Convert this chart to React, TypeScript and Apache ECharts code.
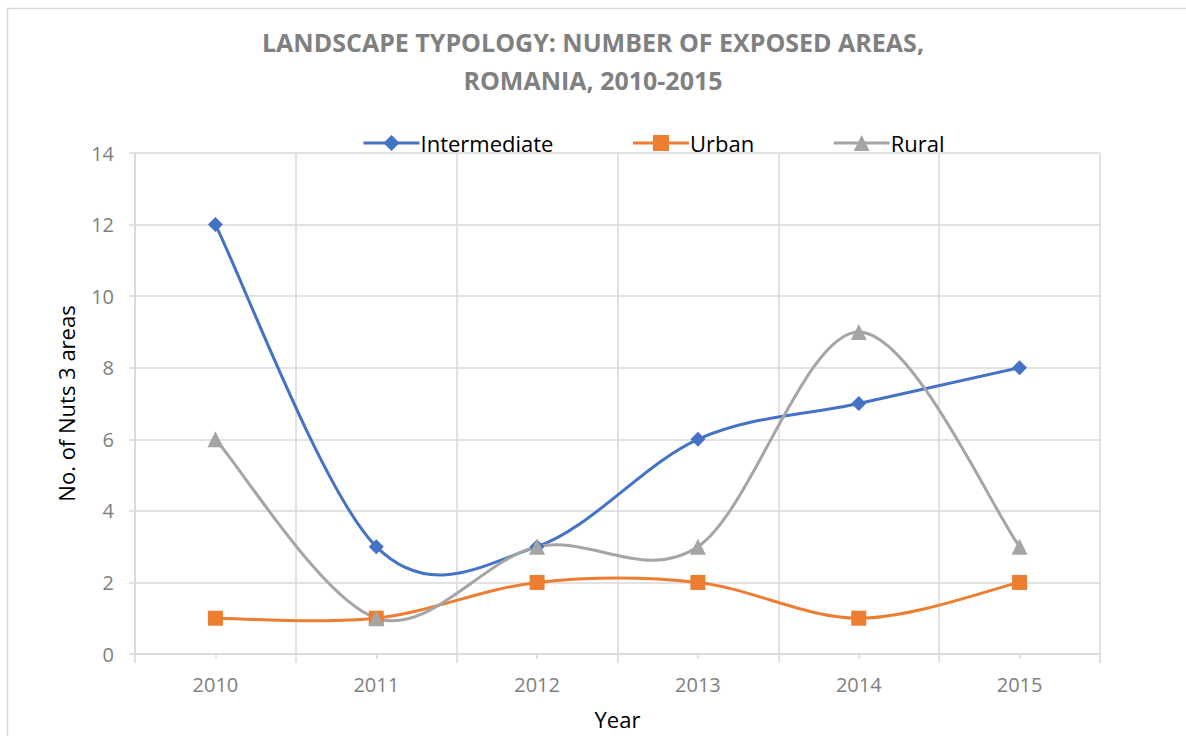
import React, { useEffect, useRef } from "react";
import * as echarts from "echarts";

const years = ["2010", "2011", "2012", "2013", "2014", "2015"];
const intermediate = [12, 3, 3, 6, 7, 8];
const urban = [1, 1, 2, 2, 1, 2];
const rural = [6, 1, 3, 3, 9, 3];
const titleText = "LANDSCAPE TYPOLOGY: NUMBER OF EXPOSED AREAS,\nROMANIA, 2010-2015";

const COLORS = { Intermediate: "#4472C4", Urban: "#ED7D31", Rural: "#A5A5A5" };

// segment list for Excel-like (Catmull-Rom) smoothed curves, built from the value arrays
function segments(arr: number[]) {
  const n = arr.length;
  return arr.slice(0, -1).map((v, i) => [i, arr[Math.max(i - 1, 0)], v, arr[i + 1], arr[Math.min(i + 2, n - 1)]]);
}

function curveSeries(name: string, arr: number[], color: string) {
  const n = arr.length;
  return {
    name: name + " curve",
    type: "custom",
    silent: true,
    z: 1,
    encode: { x: 0, y: 2 },
    data: segments(arr),
    renderItem: (params: any, api: any) => {
      const i = api.value(0);
      const p0 = api.coord([Math.max(i - 1, 0), api.value(1)]);
      const p1 = api.coord([i, api.value(2)]);
      const p2 = api.coord([i + 1, api.value(3)]);
      const p3 = api.coord([Math.min(i + 2, n - 1), api.value(4)]);
      const k = 1 / 6;
      return {
        type: "bezierCurve",
        shape: {
          x1: p1[0],
          y1: p1[1],
          x2: p2[0],
          y2: p2[1],
          cpx1: p1[0] + (p2[0] - p0[0]) * k,
          cpy1: p1[1] + (p2[1] - p0[1]) * k,
          cpx2: p2[0] - (p3[0] - p1[0]) * k,
          cpy2: p2[1] - (p3[1] - p1[1]) * k,
        },
        style: { stroke: color, lineWidth: 3, fill: "none" },
      };
    },
  };
}

function markerSeries(name: string, arr: number[], color: string, symbol: string, size: number) {
  return {
    name,
    type: "line",
    data: arr,
    z: 3,
    symbol,
    symbolSize: size,
    itemStyle: { color },
    lineStyle: { color, width: 3, opacity: 0 },
  };
}

export default function App() {
  const ref = useRef<HTMLDivElement>(null);
  useEffect(() => {
    document.body.style.margin = "0";
    const chart = echarts.init(ref.current!, null, { renderer: "svg" });
    const font = "'Open Sans', sans-serif";
    chart.setOption({
      animation: false,
      backgroundColor: "#ffffff",
      title: {
        text: titleText,
        left: "center",
        top: 18,
        textStyle: {
          fontFamily: font,
          fontWeight: "bold",
          fontSize: 25,
          color: "#808080",
          lineHeight: 38,
        },
      },
      graphic: [
        {
          type: "rect",
          shape: { x: 7.5, y: 8.5, width: 1300, height: 800 },
          style: { fill: "none", stroke: "#d9d9d9", lineWidth: 1.5 },
          silent: true,
        },
      ],
      legend: {
        top: 127,
        left: 357,
        itemWidth: 56,
        itemHeight: 20,
        itemGap: 78,
        textStyle: { fontFamily: font, fontSize: 22, color: "#000000", padding: [0, 0, 0, -4] },
        data: [
          { name: "Intermediate", lineStyle: { opacity: 1, color: COLORS.Intermediate, width: 3 } },
          { name: "Urban", lineStyle: { opacity: 1, color: COLORS.Urban, width: 3 } },
          { name: "Rural", lineStyle: { opacity: 1, color: COLORS.Rural, width: 3 } },
        ],
      },
      grid: { left: 135, right: 86, top: 153, bottom: 82 },
      xAxis: [
        {
          type: "category",
          data: years,
          boundaryGap: true,
          name: "Year",
          nameLocation: "middle",
          nameGap: 54,
          nameTextStyle: { fontFamily: font, fontSize: 22, color: "#000000" },
          axisLine: { show: true, lineStyle: { color: "#d9d9d9", width: 1.5 } },
          axisTick: { show: true, alignWithLabel: false, length: 9, lineStyle: { color: "#d9d9d9", width: 1.5 } },
          axisLabel: { fontFamily: font, fontSize: 20, color: "#808080", margin: 20 },
          splitLine: { show: true, lineStyle: { color: "#d9d9d9", width: 1.5 } },
        },
        {
          type: "category",
          data: years,
          boundaryGap: true,
          position: "bottom",
          axisLine: { show: false },
          axisTick: { show: true, alignWithLabel: true, length: 5, lineStyle: { color: "#d9d9d9", width: 1.5 } },
          axisLabel: { show: false },
          splitLine: { show: false },
        },
      ],
      yAxis: {
        type: "value",
        min: 0,
        max: 14,
        interval: 2,
        name: "No. of Nuts 3 areas",
        nameLocation: "middle",
        nameGap: 58,
        nameTextStyle: { fontFamily: font, fontSize: 22, color: "#000000" },
        axisLine: { show: true, lineStyle: { color: "#d9d9d9", width: 1.5 } },
        axisTick: { show: true, length: 6, lineStyle: { color: "#d9d9d9", width: 1.5 } },
        axisLabel: { fontFamily: font, fontSize: 20, color: "#808080", margin: 21 },
        splitLine: { show: true, lineStyle: { color: "#d9d9d9", width: 1.5 } },
      },
      series: [
        curveSeries("Intermediate", intermediate, COLORS.Intermediate),
        curveSeries("Urban", urban, COLORS.Urban),
        curveSeries("Rural", rural, COLORS.Rural),
        markerSeries("Intermediate", intermediate, COLORS.Intermediate, "diamond", 15),
        markerSeries("Urban", urban, COLORS.Urban, "rect", 15),
        markerSeries("Rural", rural, COLORS.Rural, "triangle", 16),
      ],
    });
    return () => chart.dispose();
  }, []);
  return <div ref={ref} style={{ width: 1186, height: 736 }} />;
}
